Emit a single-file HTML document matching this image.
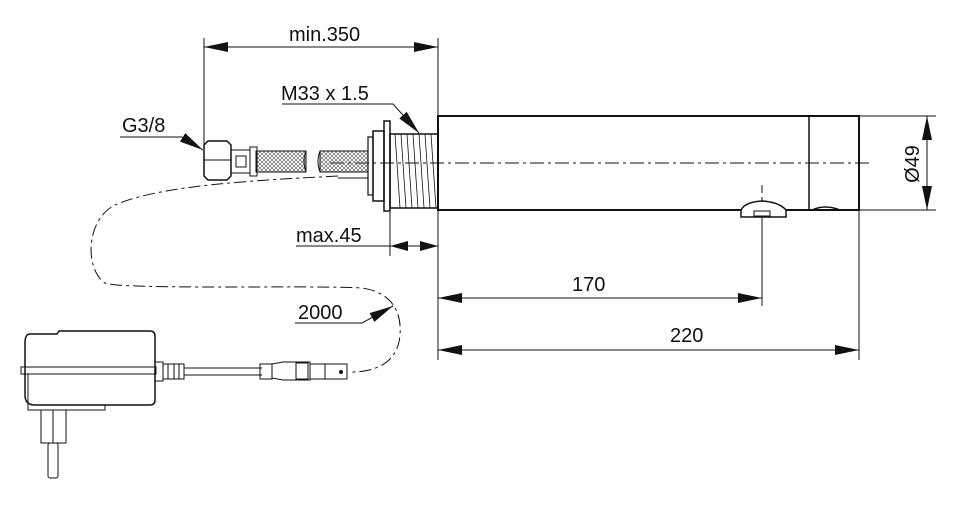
<!DOCTYPE html>
<html><head><style>html,body{margin:0;padding:0;background:#fff}svg{display:block}text{font-family:"Liberation Sans",sans-serif;font-size:20px;fill:#111}</style></head><body>
<svg width="960" height="512" viewBox="0 0 960 512" xmlns="http://www.w3.org/2000/svg">
<defs>
<marker id="b" viewBox="0 0 24 10" refX="24" refY="5" markerWidth="24" markerHeight="10" orient="auto-start-reverse" markerUnits="userSpaceOnUse"><path d="M0,0L24,5L0,10z" fill="#111"/></marker>
<marker id="c" viewBox="0 0 18 10" refX="18" refY="5" markerWidth="18" markerHeight="10" orient="auto-start-reverse" markerUnits="userSpaceOnUse"><path d="M0,0L18,5L0,10z" fill="#111"/></marker>
<pattern id="h" width="4" height="4" patternUnits="userSpaceOnUse"><path d="M0,0L4,4M4,0L0,4" stroke="#555" stroke-width="0.6"/></pattern>
</defs>
<g stroke="#111" fill="none" stroke-width="1">
<line x1="204" y1="38" x2="204" y2="150"/>
<line x1="438" y1="38" x2="438" y2="116"/>
<line x1="438" y1="210" x2="438" y2="360"/>
<line x1="390" y1="212" x2="390" y2="256"/>
<line x1="762" y1="212" x2="762" y2="306"/>
<line x1="859" y1="210" x2="859" y2="360"/>
<line x1="860" y1="116" x2="936" y2="116"/>
<line x1="860" y1="210" x2="936" y2="210"/>
<line x1="204" y1="47" x2="438" y2="47" marker-start="url(#b)" marker-end="url(#b)"/>
<line x1="438" y1="298" x2="762" y2="298" marker-start="url(#b)" marker-end="url(#b)"/>
<line x1="438" y1="350" x2="859" y2="350" marker-start="url(#b)" marker-end="url(#b)"/>
<line x1="927" y1="116" x2="927" y2="210" marker-start="url(#b)" marker-end="url(#b)"/>
<line x1="296" y1="246" x2="390" y2="246"/>
<line x1="390" y1="246" x2="438" y2="246" marker-start="url(#c)" marker-end="url(#c)"/>
<polyline points="282,104 393,104 419,133" marker-end="url(#b)"/>
<polyline points="120,137 182,137 203,150" marker-end="url(#b)"/>
<polyline points="295,323 362,323 393,306" marker-end="url(#b)"/>
<rect x="438" y="116" width="421" height="94" stroke-width="2"/>
<line x1="809" y1="116" x2="809" y2="210" stroke-width="1.5"/>
<line x1="330" y1="163" x2="872" y2="163" stroke-dasharray="14,4,3,4"/>
<line x1="762" y1="185" x2="762" y2="228" stroke-dasharray="8,4"/>
<path d="M741,210 Q745,202 762,201 Q779,202 786,210 L786,217 L741,217 Z" fill="#fff" stroke-width="1.5"/>
<rect x="754" y="211" width="16" height="5"/>
<path d="M812,210 Q825,204 840,210" stroke-width="1.5"/>
<rect x="390" y="134" width="48" height="74" stroke-width="1.5"/>
<g stroke-width="0.8"><line x1="395" y1="134" x2="400" y2="208"/><line x1="401" y1="134" x2="406" y2="208"/><line x1="407" y1="134" x2="412" y2="208"/><line x1="413" y1="134" x2="418" y2="208"/><line x1="419" y1="134" x2="424" y2="208"/><line x1="425" y1="134" x2="430" y2="208"/><line x1="431" y1="134" x2="436" y2="208"/></g>
<rect x="384" y="121" width="6" height="90" stroke-width="1.5"/>
<rect x="373" y="131" width="11" height="70" stroke-width="1.5"/>
<rect x="368" y="137" width="5" height="58" stroke-width="1.2"/>
<rect x="320" y="151" width="48" height="21" fill="url(#h)"/>
<rect x="256" y="151" width="50" height="21" fill="url(#h)"/>
<path d="M306,151 Q302,161 306,172 M320,151 Q316,161 320,172"/>
<rect x="250" y="147" width="7" height="29"/>
<rect x="231" y="150" width="19" height="23"/>
<rect x="236" y="156" width="10" height="11"/>
<path d="M204,145 L208,141 L227,141 L231,145 L231,176 L227,180 L208,180 L204,176 Z" stroke-width="1.5"/>
<line x1="204" y1="160" x2="231" y2="160"/>
<line x1="338" y1="178" x2="368" y2="178"/>
<path d="M338,176 C260,180 160,185 115,205 C85,220 85,270 105,283 C120,290 320,285 362,288 C390,292 402,310 400,335 C398,360 380,372 350,372" stroke-dasharray="12,4,3,4"/>
<path d="M30,334 L57,334 L59,331 L150,331 Q155,331 155,336 L155,400 Q155,405 150,405 L35,405 Q25,405 25,395 L25,343 Q25,334 30,334 Z" stroke-width="1.5"/>
<rect x="21" y="367" width="135" height="7"/>
<path d="M28,374 L28,410 L105,410 L105,405"/>
<rect x="41" y="410" width="25" height="33"/>
<rect x="48" y="443" width="10" height="35" rx="2"/>
<line x1="53" y1="410" x2="53" y2="443"/>
<rect x="155" y="362" width="8" height="19"/>
<rect x="163" y="364" width="21" height="15"/>
<line x1="168" y1="364" x2="168" y2="379"/><line x1="174" y1="364" x2="174" y2="379"/><line x1="179" y1="364" x2="179" y2="379"/>
<line x1="184" y1="368" x2="262" y2="368"/><line x1="184" y1="375" x2="262" y2="375"/>
<rect x="260" y="364" width="12" height="15"/>
<path d="M272,364 L283,362 L310,362 L310,380 L283,380 L272,378 Z"/>
<rect x="296" y="363" width="12" height="16"/>
<rect x="310" y="364" width="37" height="15"/>
<line x1="325" y1="364" x2="325" y2="379"/>
<circle cx="341" cy="372" r="1.5" fill="#111"/>
</g>
<text x="289" y="41">min.350</text>
<text x="281" y="100">M33 x 1.5</text>
<text x="122" y="132">G3/8</text>
<text x="296" y="242">max.45</text>
<text x="572" y="291">170</text>
<text x="670" y="342">220</text>
<text x="298" y="319">2000</text>
<text transform="translate(919,164) rotate(-90)" text-anchor="middle">Ø49</text>
</svg>
</body></html>
